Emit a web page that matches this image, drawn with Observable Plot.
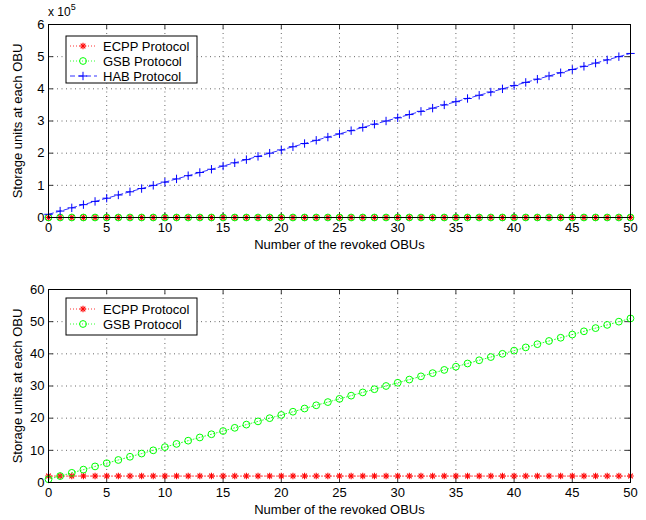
<!DOCTYPE html>
<html><head><meta charset="utf-8">
<script src="https://cdn.jsdelivr.net/npm/d3@7"></script>
<script src="https://cdn.jsdelivr.net/npm/@observablehq/plot@0.6"></script>
<style>
body{margin:0;background:#fff;}
#wrap{position:relative;width:646px;height:520px;font-family:"Liberation Sans",Arial,Helvetica,sans-serif;}
#wrap svg{display:block}
</style></head><body><div id="wrap"></div>
<script>
// ---- data ----
const revoked = [0,1,2,3,4,5,6,7,8,9,10,11,12,13,14,15,16,17,18,19,20,21,22,23,24,25,26,27,28,29,30,31,32,33,34,35,36,37,38,39,40,41,42,43,44,45,46,47,48,49,50];
const ecpp = [2,2,2,2,2,2,2,2,2,2,2,2,2,2,2,2,2,2,2,2,2,2,2,2,2,2,2,2,2,2,2,2,2,2,2,2,2,2,2,2,2,2,2,2,2,2,2,2,2,2,2];
const gsb = [1,2,3,4,5,6,7,8,9,10,11,12,13,14,15,16,17,18,19,20,21,22,23,24,25,26,27,28,29,30,31,32,33,34,35,36,37,38,39,40,41,42,43,44,45,46,47,48,49,50,51];
const hab = [10000,20000,30000,40000,50000,60000,70000,80000,90000,100000,110000,120000,130000,140000,150000,160000,170000,180000,190000,200000,210000,220000,230000,240000,250000,260000,270000,280000,290000,300000,310000,320000,330000,340000,350000,360000,370000,380000,390000,400000,410000,420000,430000,440000,450000,460000,470000,480000,490000,500000,510000];
const xTicks = [0,5,10,15,20,25,30,35,40,45,50];
const yTicksTop = [0,100000,200000,300000,400000,500000,600000];
const yTicksBottom = [0,10,20,30,40,50,60];
const xLabel = "Number of the revoked OBUs";
const yLabel = "Storage units at each OBU";
const names = ["ECPP Protocol","GSB Protocol","HAB Protocol"];

const rows = revoked.map((n,i)=>({n, ecpp: ecpp[i], gsb: gsb[i], hab: hab[i]}));

const RED="#ff0000", GREEN="#00ff00", BLUE="#0000ff";
const W=646, ML=48, MR=16, IH=193, IW=W-ML-MR;
const FONT='"Liberation Sans",Arial,Helvetica,sans-serif';

// custom stroke symbols: half-length = sqrt(size/PI) = r
const symPlus = {draw(ctx,size){const r=Math.sqrt(size/Math.PI);ctx.moveTo(-r,0);ctx.lineTo(r,0);ctx.moveTo(0,-r);ctx.lineTo(0,r);}};
const symTimes = {draw(ctx,size){const r=Math.sqrt(size/Math.PI)*0.7071;ctx.moveTo(-r,-r);ctx.lineTo(r,r);ctx.moveTo(-r,r);ctx.lineTo(r,-r);}};
const AST=3.3, PLUS=4.2, CIRC=3.4;

function seriesMarks(key, color, dash, kind){
  const m=[Plot.line(rows,{x:"n",y:key,stroke:color,strokeWidth:0.8,strokeDasharray:dash})];
  if(kind==="ast"){
    m.push(Plot.dot(rows,{x:"n",y:key,symbol:symPlus,r:AST,stroke:color,strokeWidth:1.1}));
    m.push(Plot.dot(rows,{x:"n",y:key,symbol:symTimes,r:AST,stroke:color,strokeWidth:1.1}));
  } else if(kind==="circle"){
    m.push(Plot.dot(rows,{x:"n",y:key,symbol:"circle",r:CIRC,stroke:color,strokeWidth:1,fill:"none"}));
  } else {
    m.push(Plot.dot(rows,{x:"n",y:key,symbol:symPlus,r:PLUS,stroke:color,strokeWidth:1}));
  }
  return m;
}

function makePlot({height, marginTop, marginBottom, yDomain, yTicks, yFmt, series}){
  return Plot.plot({
    width:W, height, marginLeft:ML, marginRight:MR, marginTop, marginBottom,
    style:{fontFamily:FONT,fontSize:"13px",color:"#000",background:"#fff"},
    x:{domain:[0,50]},
    y:{domain:yDomain},
    marks:[
      Plot.gridX(xTicks,{stroke:"#000",strokeOpacity:0.75,strokeDasharray:"1,3.5",strokeWidth:0.8}),
      Plot.gridY(yTicks,{stroke:"#000",strokeOpacity:0.75,strokeDasharray:"1,3.5",strokeWidth:0.8}),
      Plot.ruleX(xTicks,{x:d=>d,insetBottom:IH-5,stroke:"#000",strokeWidth:0.8}),
      Plot.ruleX(xTicks,{x:d=>d,insetTop:IH-5,stroke:"#000",strokeWidth:0.8}),
      Plot.ruleY(yTicks,{y:d=>d,insetRight:IW-5,stroke:"#000",strokeWidth:0.8}),
      Plot.ruleY(yTicks,{y:d=>d,insetLeft:IW-5,stroke:"#000",strokeWidth:0.8}),
      ...series,
      Plot.frame({stroke:"#000",strokeWidth:1}),
      Plot.axisX(xTicks,{tickSize:0,tickPadding:5,label:xLabel,labelAnchor:"center",labelArrow:"none",labelOffset:31}),
      Plot.axisY(yTicks,{tickSize:0,tickPadding:4,tickFormat:yFmt,label:yLabel,labelAnchor:"center",labelArrow:"none",labelOffset:36})
    ]
  });
}

function addLegend(svg, x, y, w, h, items){
  const g=d3.select(svg).append("g").attr("transform",`translate(${x},${y})`).attr("text-anchor","start");
  g.append("rect").attr("width",w).attr("height",h).attr("fill","#fff").attr("stroke","#000").attr("stroke-width",1);
  items.forEach((it)=>{
    const cy=it.y;
    g.append("line").attr("x1",4).attr("x2",31).attr("y1",cy).attr("y2",cy)
      .attr("stroke",it.color).attr("stroke-width",0.8).attr("stroke-dasharray",it.dash);
    const mk=(type,r,sw)=>g.append("path").attr("transform",`translate(17,${cy})`)
      .attr("d",d3.symbol(type,Math.PI*r*r)()).attr("fill","none").attr("stroke",it.color).attr("stroke-width",sw);
    if(it.kind==="ast"){mk(symPlus,AST,1.1);mk(symTimes,AST,1.1);}
    else if(it.kind==="circle"){mk(d3.symbolCircle,CIRC,1);}
    else {mk(symPlus,PLUS,1);}
    g.append("text").attr("x",37).attr("y",cy).attr("dy","0.35em").attr("font-size","13px")
      .attr("font-family",FONT).attr("fill","#000").text(it.name);
  });
}

const wrap=document.getElementById("wrap");

const topPlot=makePlot({height:262, marginTop:24, marginBottom:45, yDomain:[0,600000], yTicks:yTicksTop,
  yFmt:d=>String(d/100000),
  series:[...seriesMarks("ecpp",RED,"1,2","ast"),...seriesMarks("gsb",GREEN,"1,2","circle"),...seriesMarks("hab",BLUE,"5,3","plus")]});
wrap.appendChild(topPlot);
addLegend(topPlot,66,36,131,47,[
  {name:names[0],color:RED,dash:"1,2",kind:"ast",y:10},
  {name:names[1],color:GREEN,dash:"1,2",kind:"circle",y:25},
  {name:names[2],color:BLUE,dash:"5,3",kind:"plus",y:40}]);
const expo=d3.select(topPlot).append("text").attr("x",48).attr("y",16).attr("text-anchor","start")
  .attr("font-size","12px").attr("font-family",FONT).attr("fill","#000");
expo.append("tspan").text("x 10");
expo.append("tspan").attr("dy",-6).attr("font-size","9px").text("5");

const botPlot=makePlot({height:258, marginTop:27, marginBottom:38, yDomain:[0,60], yTicks:yTicksBottom,
  yFmt:d=>String(d),
  series:[...seriesMarks("ecpp",RED,"1,2","ast"),...seriesMarks("gsb",GREEN,"1,2","circle")]});
wrap.appendChild(botPlot);
addLegend(botPlot,66,36,131,37,[
  {name:names[0],color:RED,dash:"1,2",kind:"ast",y:11},
  {name:names[1],color:GREEN,dash:"1,2",kind:"circle",y:26}]);
</script></body></html>
